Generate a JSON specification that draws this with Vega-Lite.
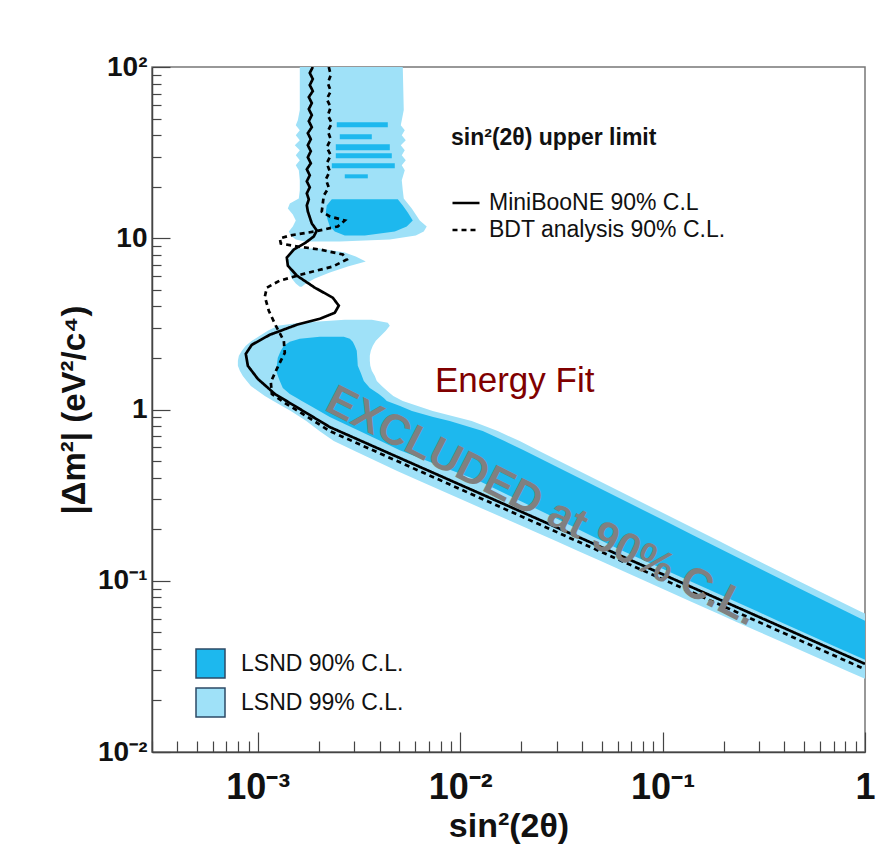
{
  "$schema": "https://vega.github.io/schema/vega-lite/v6.json",
  "width": 713,
  "height": 685,
  "autosize": {"type": "none"},
  "padding": {"left": 152, "top": 67, "right": 30, "bottom": 116},
  "background": "white",
  "config": {
    "font": "Liberation Sans",
    "view": {"stroke": "#777", "strokeWidth": 1.5}
  },
  "datasets": {
    "lsnd": [
      {"id": "a99", "cl": "LSND 99% C.L.", "dm2": 100, "s": 0.001612, "s2": 0.005202},
      {"id": "a99", "cl": "LSND 99% C.L.", "dm2": 56.0, "s": 0.001612, "s2": 0.005261},
      {"id": "a99", "cl": "LSND 99% C.L.", "dm2": 48.93, "s": 0.001576, "s2": 0.005143},
      {"id": "a99", "cl": "LSND 99% C.L.", "dm2": 45.74, "s": 0.00154, "s2": 0.005085},
      {"id": "a99", "cl": "LSND 99% C.L.", "dm2": 42.76, "s": 0.001612, "s2": 0.005321},
      {"id": "a99", "cl": "LSND 99% C.L.", "dm2": 39.97, "s": 0.00154, "s2": 0.005143},
      {"id": "a99", "cl": "LSND 99% C.L.", "dm2": 37.37, "s": 0.001612, "s2": 0.005382},
      {"id": "a99", "cl": "LSND 99% C.L.", "dm2": 34.93, "s": 0.001523, "s2": 0.005085},
      {"id": "a99", "cl": "LSND 99% C.L.", "dm2": 32.65, "s": 0.001612, "s2": 0.005321},
      {"id": "a99", "cl": "LSND 99% C.L.", "dm2": 30.52, "s": 0.00154, "s2": 0.005143},
      {"id": "a99", "cl": "LSND 99% C.L.", "dm2": 28.53, "s": 0.001612, "s2": 0.005382},
      {"id": "a99", "cl": "LSND 99% C.L.", "dm2": 26.67, "s": 0.00154, "s2": 0.005143},
      {"id": "a99", "cl": "LSND 99% C.L.", "dm2": 24.94, "s": 0.001594, "s2": 0.005321},
      {"id": "a99", "cl": "LSND 99% C.L.", "dm2": 21.79, "s": 0.001612, "s2": 0.005143},
      {"id": "a99", "cl": "LSND 99% C.L.", "dm2": 19.04, "s": 0.001612, "s2": 0.005202},
      {"id": "a99", "cl": "LSND 99% C.L.", "dm2": 17.09, "s": 0.001594, "s2": 0.005261},
      {"id": "a99", "cl": "LSND 99% C.L.", "dm2": 15.98, "s": 0.001439, "s2": 0.005506},
      {"id": "a99", "cl": "LSND 99% C.L.", "dm2": 14.93, "s": 0.001407, "s2": 0.005762},
      {"id": "a99", "cl": "LSND 99% C.L.", "dm2": 13.77, "s": 0.001489, "s2": 0.006031},
      {"id": "a99", "cl": "LSND 99% C.L.", "dm2": 12.70, "s": 0.00154, "s2": 0.00631},
      {"id": "a99", "cl": "LSND 99% C.L.", "dm2": 11.72, "s": 0.001489, "s2": 0.006832},
      {"id": "a99", "cl": "LSND 99% C.L.", "dm2": 10.95, "s": 0.001423, "s2": 0.006603},
      {"id": "a99", "cl": "LSND 99% C.L.", "dm2": 10.38, "s": 0.001455, "s2": 0.006031},
      {"id": "a99", "cl": "LSND 99% C.L.", "dm2": 9.833, "s": 0.00154, "s2": 0.004488},
      {"id": "a99", "cl": "LSND 99% C.L.", "dm2": 9.571, "s": 0.001706, "s2": 0.002541},
      {"id": "b99", "cl": "LSND 99% C.L.", "dm2": 8.71, "s": 0.001472, "s2": 0.002024},
      {"id": "b99", "cl": "LSND 99% C.L.", "dm2": 8.253, "s": 0.001439, "s2": 0.002689},
      {"id": "b99", "cl": "LSND 99% C.L.", "dm2": 7.82, "s": 0.001423, "s2": 0.003048},
      {"id": "b99", "cl": "LSND 99% C.L.", "dm2": 7.311, "s": 0.001407, "s2": 0.003416},
      {"id": "b99", "cl": "LSND 99% C.L.", "dm2": 6.834, "s": 0.001423, "s2": 0.002783},
      {"id": "b99", "cl": "LSND 99% C.L.", "dm2": 6.302, "s": 0.001439, "s2": 0.002268},
      {"id": "b99", "cl": "LSND 99% C.L.", "dm2": 5.812, "s": 0.001472, "s2": 0.001912},
      {"id": "b99", "cl": "LSND 99% C.L.", "dm2": 5.433, "s": 0.00154, "s2": 0.001726},
      {"id": "b99", "cl": "LSND 99% C.L.", "dm2": 5.217, "s": 0.001612, "s2": 0.001649},
      {"id": "c99", "cl": "LSND 99% C.L.", "dm2": 3.343, "s": 0.002689, "s2": 0.003657},
      {"id": "c99", "cl": "LSND 99% C.L.", "dm2": 3.210, "s": 0.001612, "s2": 0.004387},
      {"id": "c99", "cl": "LSND 99% C.L.", "dm2": 3.084, "s": 0.001255, "s2": 0.004488},
      {"id": "c99", "cl": "LSND 99% C.L.", "dm2": 2.882, "s": 0.00112, "s2": 0.004288},
      {"id": "c99", "cl": "LSND 99% C.L.", "dm2": 2.694, "s": 0.001023, "s2": 0.004052},
      {"id": "c99", "cl": "LSND 99% C.L.", "dm2": 2.520, "s": 0.000934, "s2": 0.003828},
      {"id": "c99", "cl": "LSND 99% C.L.", "dm2": 2.354, "s": 0.000872, "s2": 0.003699},
      {"id": "c99", "cl": "LSND 99% C.L.", "dm2": 2.201, "s": 0.000834, "s2": 0.003616},
      {"id": "c99", "cl": "LSND 99% C.L.", "dm2": 2.057, "s": 0.000806, "s2": 0.003575},
      {"id": "c99", "cl": "LSND 99% C.L.", "dm2": 1.923, "s": 0.000797, "s2": 0.003575},
      {"id": "c99", "cl": "LSND 99% C.L.", "dm2": 1.798, "s": 0.000797, "s2": 0.003595},
      {"id": "c99", "cl": "LSND 99% C.L.", "dm2": 1.681, "s": 0.000815, "s2": 0.003657},
      {"id": "c99", "cl": "LSND 99% C.L.", "dm2": 1.571, "s": 0.000843, "s2": 0.003784},
      {"id": "c99", "cl": "LSND 99% C.L.", "dm2": 1.469, "s": 0.000882, "s2": 0.003871},
      {"id": "c99", "cl": "LSND 99% C.L.", "dm2": 1.373, "s": 0.000924, "s2": 0.004098},
      {"id": "c99", "cl": "LSND 99% C.L.", "dm2": 1.283, "s": 0.001, "s2": 0.004362},
      {"id": "c99", "cl": "LSND 99% C.L.", "dm2": 1.200, "s": 0.001083, "s2": 0.00467},
      {"id": "c99", "cl": "LSND 99% C.L.", "dm2": 1.121, "s": 0.001193, "s2": 0.005202},
      {"id": "c99", "cl": "LSND 99% C.L.", "dm2": 0.980, "s": 0.001455, "s2": 0.007313},
      {"id": "c99", "cl": "LSND 99% C.L.", "dm2": 0.8562, "s": 0.001736, "s2": 0.0114},
      {"id": "c99", "cl": "LSND 99% C.L.", "dm2": 0.7481, "s": 0.002015, "s2": 0.01532},
      {"id": "c99", "cl": "LSND 99% C.L.", "dm2": 0.6537, "s": 0.002373, "s2": 0.01967},
      {"id": "c99", "cl": "LSND 99% C.L.", "dm2": 0.5712, "s": 0.00303, "s2": 0.02469},
      {"id": "c99", "cl": "LSND 99% C.L.", "dm2": 0.4992, "s": 0.003858, "s2": 0.031},
      {"id": "c99", "cl": "LSND 99% C.L.", "dm2": 0.4363, "s": 0.00491, "s2": 0.03892},
      {"id": "c99", "cl": "LSND 99% C.L.", "dm2": 0.3813, "s": 0.006346, "s2": 0.04887},
      {"id": "c99", "cl": "LSND 99% C.L.", "dm2": 0.3332, "s": 0.008215, "s2": 0.06133},
      {"id": "c99", "cl": "LSND 99% C.L.", "dm2": 0.2911, "s": 0.01063, "s2": 0.07697},
      {"id": "c99", "cl": "LSND 99% C.L.", "dm2": 0.2544, "s": 0.01376, "s2": 0.09665},
      {"id": "c99", "cl": "LSND 99% C.L.", "dm2": 0.2223, "s": 0.01784, "s2": 0.1213},
      {"id": "c99", "cl": "LSND 99% C.L.", "dm2": 0.1943, "s": 0.02309, "s2": 0.1523},
      {"id": "c99", "cl": "LSND 99% C.L.", "dm2": 0.1698, "s": 0.02989, "s2": 0.1912},
      {"id": "c99", "cl": "LSND 99% C.L.", "dm2": 0.1483, "s": 0.0387, "s2": 0.24},
      {"id": "c99", "cl": "LSND 99% C.L.", "dm2": 0.1296, "s": 0.0501, "s2": 0.3013},
      {"id": "c99", "cl": "LSND 99% C.L.", "dm2": 0.1133, "s": 0.06448, "s2": 0.3784},
      {"id": "c99", "cl": "LSND 99% C.L.", "dm2": 0.0990, "s": 0.08306, "s2": 0.475},
      {"id": "c99", "cl": "LSND 99% C.L.", "dm2": 0.0865, "s": 0.1069, "s2": 0.5981},
      {"id": "c99", "cl": "LSND 99% C.L.", "dm2": 0.0756, "s": 0.1376, "s2": 0.7536},
      {"id": "c99", "cl": "LSND 99% C.L.", "dm2": 0.0661, "s": 0.1778, "s2": 0.9501},
      {"id": "c99", "cl": "LSND 99% C.L.", "dm2": 0.0643, "s": 0.1873, "s2": 1},
      {"id": "c99", "cl": "LSND 99% C.L.", "dm2": 0.0577, "s": 0.2304, "s2": 1},
      {"id": "c99", "cl": "LSND 99% C.L.", "dm2": 0.0504, "s": 0.2983, "s2": 1},
      {"id": "c99", "cl": "LSND 99% C.L.", "dm2": 0.0441, "s": 0.3863, "s2": 1},
      {"id": "c99", "cl": "LSND 99% C.L.", "dm2": 0.0385, "s": 0.4997, "s2": 1},
      {"id": "c99", "cl": "LSND 99% C.L.", "dm2": 0.0337, "s": 0.6449, "s2": 1},
      {"id": "c99", "cl": "LSND 99% C.L.", "dm2": 0.0294, "s": 0.8318, "s2": 1},
      {"id": "c99", "cl": "LSND 99% C.L.", "dm2": 0.0268, "s": 1, "s2": 1},
      {"id": "s1", "cl": "LSND 90% C.L.", "dm2": 47.63, "s": 0.002455, "s2": 0.004387},
      {"id": "s1", "cl": "LSND 90% C.L.", "dm2": 44.53, "s": 0.002455, "s2": 0.004387},
      {"id": "s2", "cl": "LSND 90% C.L.", "dm2": 40.52, "s": 0.002541, "s2": 0.003657},
      {"id": "s2", "cl": "LSND 90% C.L.", "dm2": 37.87, "s": 0.002541, "s2": 0.003657},
      {"id": "s3", "cl": "LSND 90% C.L.", "dm2": 35.40, "s": 0.002428, "s2": 0.004488},
      {"id": "s3", "cl": "LSND 90% C.L.", "dm2": 32.65, "s": 0.002428, "s2": 0.004488},
      {"id": "s4", "cl": "LSND 90% C.L.", "dm2": 31.35, "s": 0.002428, "s2": 0.004591},
      {"id": "s4", "cl": "LSND 90% C.L.", "dm2": 29.31, "s": 0.002428, "s2": 0.004591},
      {"id": "s5", "cl": "LSND 90% C.L.", "dm2": 27.40, "s": 0.00232, "s2": 0.00475},
      {"id": "s5", "cl": "LSND 90% C.L.", "dm2": 25.62, "s": 0.00232, "s2": 0.00475},
      {"id": "s6", "cl": "LSND 90% C.L.", "dm2": 23.62, "s": 0.002689, "s2": 0.003495},
      {"id": "s6", "cl": "LSND 90% C.L.", "dm2": 22.38, "s": 0.002689, "s2": 0.003495},
      {"id": "a90", "cl": "LSND 90% C.L.", "dm2": 16.87, "s": 0.00232, "s2": 0.004915},
      {"id": "a90", "cl": "LSND 90% C.L.", "dm2": 15.55, "s": 0.002191, "s2": 0.005202},
      {"id": "a90", "cl": "LSND 90% C.L.", "dm2": 14.15, "s": 0.002167, "s2": 0.005506},
      {"id": "a90", "cl": "LSND 90% C.L.", "dm2": 12.70, "s": 0.002217, "s2": 0.005828},
      {"id": "a90", "cl": "LSND 90% C.L.", "dm2": 11.72, "s": 0.002268, "s2": 0.005444},
      {"id": "a90", "cl": "LSND 90% C.L.", "dm2": 10.95, "s": 0.0024, "s2": 0.00475},
      {"id": "a90", "cl": "LSND 90% C.L.", "dm2": 10.38, "s": 0.002689, "s2": 0.003377},
      {"id": "c90", "cl": "LSND 90% C.L.", "dm2": 2.658, "s": 0.002024, "s2": 0.002659},
      {"id": "c90", "cl": "LSND 90% C.L.", "dm2": 2.588, "s": 0.001612, "s2": 0.002847},
      {"id": "c90", "cl": "LSND 90% C.L.", "dm2": 2.486, "s": 0.001439, "s2": 0.002945},
      {"id": "c90", "cl": "LSND 90% C.L.", "dm2": 2.354, "s": 0.001344, "s2": 0.003013},
      {"id": "c90", "cl": "LSND 90% C.L.", "dm2": 2.201, "s": 0.001299, "s2": 0.003082},
      {"id": "c90", "cl": "LSND 90% C.L.", "dm2": 2.002, "s": 0.001255, "s2": 0.0031},
      {"id": "c90", "cl": "LSND 90% C.L.", "dm2": 1.798, "s": 0.001241, "s2": 0.003118},
      {"id": "c90", "cl": "LSND 90% C.L.", "dm2": 1.636, "s": 0.001241, "s2": 0.003227},
      {"id": "c90", "cl": "LSND 90% C.L.", "dm2": 1.469, "s": 0.001284, "s2": 0.003339},
      {"id": "c90", "cl": "LSND 90% C.L.", "dm2": 1.336, "s": 0.001329, "s2": 0.003575},
      {"id": "c90", "cl": "LSND 90% C.L.", "dm2": 1.233, "s": 0.001439, "s2": 0.00396},
      {"id": "c90", "cl": "LSND 90% C.L.", "dm2": 1.168, "s": 0.001558, "s2": 0.004192},
      {"id": "c90", "cl": "LSND 90% C.L.", "dm2": 1.121, "s": 0.001649, "s2": 0.004337},
      {"id": "c90", "cl": "LSND 90% C.L.", "dm2": 1.048, "s": 0.001825, "s2": 0.005045},
      {"id": "c90", "cl": "LSND 90% C.L.", "dm2": 0.980, "s": 0.002015, "s2": 0.005775},
      {"id": "c90", "cl": "LSND 90% C.L.", "dm2": 0.904, "s": 0.002268, "s2": 0.007355},
      {"id": "c90", "cl": "LSND 90% C.L.", "dm2": 0.8562, "s": 0.002497, "s2": 0.008874},
      {"id": "c90", "cl": "LSND 90% C.L.", "dm2": 0.8004, "s": 0.002818, "s2": 0.01071},
      {"id": "c90", "cl": "LSND 90% C.L.", "dm2": 0.7481, "s": 0.00318, "s2": 0.01292},
      {"id": "c90", "cl": "LSND 90% C.L.", "dm2": 0.6537, "s": 0.004047, "s2": 0.01655},
      {"id": "c90", "cl": "LSND 90% C.L.", "dm2": 0.579, "s": 0.005027, "s2": 0.02059},
      {"id": "c90", "cl": "LSND 90% C.L.", "dm2": 0.5339, "s": 0.005996, "s2": 0.0236},
      {"id": "c90", "cl": "LSND 90% C.L.", "dm2": 0.4667, "s": 0.008039, "s2": 0.02961},
      {"id": "c90", "cl": "LSND 90% C.L.", "dm2": 0.3813, "s": 0.01249, "s2": 0.04167},
      {"id": "c90", "cl": "LSND 90% C.L.", "dm2": 0.3332, "s": 0.01578, "s2": 0.05231},
      {"id": "c90", "cl": "LSND 90% C.L.", "dm2": 0.2722, "s": 0.02242, "s2": 0.07355},
      {"id": "c90", "cl": "LSND 90% C.L.", "dm2": 0.2223, "s": 0.03186, "s2": 0.1035},
      {"id": "c90", "cl": "LSND 90% C.L.", "dm2": 0.1816, "s": 0.04522, "s2": 0.1456},
      {"id": "c90", "cl": "LSND 90% C.L.", "dm2": 0.1524, "s": 0.06133, "s2": 0.1956},
      {"id": "c90", "cl": "LSND 90% C.L.", "dm2": 0.1296, "s": 0.08306, "s2": 0.257},
      {"id": "c90", "cl": "LSND 90% C.L.", "dm2": 0.1059, "s": 0.1215, "s2": 0.3616},
      {"id": "c90", "cl": "LSND 90% C.L.", "dm2": 0.0901, "s": 0.1648, "s2": 0.475},
      {"id": "c90", "cl": "LSND 90% C.L.", "dm2": 0.0756, "s": 0.2288, "s2": 0.6412},
      {"id": "c90", "cl": "LSND 90% C.L.", "dm2": 0.0661, "s": 0.2949, "s2": 0.8077},
      {"id": "c90", "cl": "LSND 90% C.L.", "dm2": 0.0585, "s": 0.3703, "s2": 1},
      {"id": "c90", "cl": "LSND 90% C.L.", "dm2": 0.0504, "s": 0.4893, "s2": 1},
      {"id": "c90", "cl": "LSND 90% C.L.", "dm2": 0.0412, "s": 0.7152, "s2": 1},
      {"id": "c90", "cl": "LSND 90% C.L.", "dm2": 0.0346, "s": 1, "s2": 1}
    ],
    "limits": [
      {"series": "MiniBooNE 90% C.L", "i": 0, "s": 0.001869, "dm2": 100},
      {"series": "MiniBooNE 90% C.L", "i": 1, "s": 0.001806, "dm2": 92.23},
      {"series": "MiniBooNE 90% C.L", "i": 2, "s": 0.001869, "dm2": 85.06},
      {"series": "MiniBooNE 90% C.L", "i": 3, "s": 0.001806, "dm2": 78.45},
      {"series": "MiniBooNE 90% C.L", "i": 4, "s": 0.001869, "dm2": 72.36},
      {"series": "MiniBooNE 90% C.L", "i": 5, "s": 0.001786, "dm2": 66.73},
      {"series": "MiniBooNE 90% C.L", "i": 6, "s": 0.001848, "dm2": 61.55},
      {"series": "MiniBooNE 90% C.L", "i": 7, "s": 0.001786, "dm2": 56.77},
      {"series": "MiniBooNE 90% C.L", "i": 8, "s": 0.001848, "dm2": 52.35},
      {"series": "MiniBooNE 90% C.L", "i": 9, "s": 0.001786, "dm2": 48.29},
      {"series": "MiniBooNE 90% C.L", "i": 10, "s": 0.001848, "dm2": 44.53},
      {"series": "MiniBooNE 90% C.L", "i": 11, "s": 0.001766, "dm2": 41.07},
      {"series": "MiniBooNE 90% C.L", "i": 12, "s": 0.001827, "dm2": 37.88},
      {"series": "MiniBooNE 90% C.L", "i": 13, "s": 0.001766, "dm2": 34.94},
      {"series": "MiniBooNE 90% C.L", "i": 14, "s": 0.001827, "dm2": 32.22},
      {"series": "MiniBooNE 90% C.L", "i": 15, "s": 0.001766, "dm2": 29.72},
      {"series": "MiniBooNE 90% C.L", "i": 16, "s": 0.001827, "dm2": 27.41},
      {"series": "MiniBooNE 90% C.L", "i": 17, "s": 0.001746, "dm2": 25.28},
      {"series": "MiniBooNE 90% C.L", "i": 18, "s": 0.001806, "dm2": 23.31},
      {"series": "MiniBooNE 90% C.L", "i": 19, "s": 0.001746, "dm2": 21.50},
      {"series": "MiniBooNE 90% C.L", "i": 20, "s": 0.001806, "dm2": 19.83},
      {"series": "MiniBooNE 90% C.L", "i": 21, "s": 0.001746, "dm2": 18.29},
      {"series": "MiniBooNE 90% C.L", "i": 22, "s": 0.001786, "dm2": 16.87},
      {"series": "MiniBooNE 90% C.L", "i": 23, "s": 0.001746, "dm2": 15.56},
      {"series": "MiniBooNE 90% C.L", "i": 24, "s": 0.001766, "dm2": 14.35},
      {"series": "MiniBooNE 90% C.L", "i": 25, "s": 0.001848, "dm2": 12.20},
      {"series": "MiniBooNE 90% C.L", "i": 26, "s": 0.001956, "dm2": 11.10},
      {"series": "MiniBooNE 90% C.L", "i": 27, "s": 0.00189, "dm2": 10.24},
      {"series": "MiniBooNE 90% C.L", "i": 28, "s": 0.001726, "dm2": 9.443},
      {"series": "MiniBooNE 90% C.L", "i": 29, "s": 0.001506, "dm2": 8.594},
      {"series": "MiniBooNE 90% C.L", "i": 30, "s": 0.001391, "dm2": 7.716},
      {"series": "MiniBooNE 90% C.L", "i": 31, "s": 0.001407, "dm2": 6.926},
      {"series": "MiniBooNE 90% C.L", "i": 32, "s": 0.001558, "dm2": 6.052},
      {"series": "MiniBooNE 90% C.L", "i": 33, "s": 0.001912, "dm2": 5.147},
      {"series": "MiniBooNE 90% C.L", "i": 34, "s": 0.002346, "dm2": 4.498},
      {"series": "MiniBooNE 90% C.L", "i": 35, "s": 0.002512, "dm2": 4.037},
      {"series": "MiniBooNE 90% C.L", "i": 36, "s": 0.0024, "dm2": 3.673},
      {"series": "MiniBooNE 90% C.L", "i": 37, "s": 0.002024, "dm2": 3.388},
      {"series": "MiniBooNE 90% C.L", "i": 38, "s": 0.001558, "dm2": 3.126},
      {"series": "MiniBooNE 90% C.L", "i": 39, "s": 0.001146, "dm2": 2.731},
      {"series": "MiniBooNE 90% C.L", "i": 40, "s": 0.000934, "dm2": 2.386},
      {"series": "MiniBooNE 90% C.L", "i": 41, "s": 0.000872, "dm2": 2.114},
      {"series": "MiniBooNE 90% C.L", "i": 42, "s": 0.000893, "dm2": 1.798},
      {"series": "MiniBooNE 90% C.L", "i": 43, "s": 0.001, "dm2": 1.509},
      {"series": "MiniBooNE 90% C.L", "i": 44, "s": 0.001213, "dm2": 1.233},
      {"series": "MiniBooNE 90% C.L", "i": 45, "s": 0.001612, "dm2": 1.007},
      {"series": "MiniBooNE 90% C.L", "i": 46, "s": 0.002268, "dm2": 0.7897},
      {"series": "MiniBooNE 90% C.L", "i": 47, "s": 0.04887, "dm2": 0.1587},
      {"series": "MiniBooNE 90% C.L", "i": 48, "s": 1, "dm2": 0.0327},
      {"series": "BDT analysis 90% C.L.", "i": 0, "s": 0.002242, "dm2": 100},
      {"series": "BDT analysis 90% C.L.", "i": 1, "s": 0.002293, "dm2": 89.76},
      {"series": "BDT analysis 90% C.L.", "i": 2, "s": 0.002217, "dm2": 80.57},
      {"series": "BDT analysis 90% C.L.", "i": 3, "s": 0.002293, "dm2": 72.33},
      {"series": "BDT analysis 90% C.L.", "i": 4, "s": 0.002191, "dm2": 64.92},
      {"series": "BDT analysis 90% C.L.", "i": 5, "s": 0.002293, "dm2": 58.28},
      {"series": "BDT analysis 90% C.L.", "i": 6, "s": 0.002217, "dm2": 52.31},
      {"series": "BDT analysis 90% C.L.", "i": 7, "s": 0.00232, "dm2": 46.96},
      {"series": "BDT analysis 90% C.L.", "i": 8, "s": 0.002217, "dm2": 42.15},
      {"series": "BDT analysis 90% C.L.", "i": 9, "s": 0.002293, "dm2": 37.84},
      {"series": "BDT analysis 90% C.L.", "i": 10, "s": 0.002191, "dm2": 33.96},
      {"series": "BDT analysis 90% C.L.", "i": 11, "s": 0.002293, "dm2": 30.49},
      {"series": "BDT analysis 90% C.L.", "i": 12, "s": 0.002191, "dm2": 27.37},
      {"series": "BDT analysis 90% C.L.", "i": 13, "s": 0.002268, "dm2": 24.56},
      {"series": "BDT analysis 90% C.L.", "i": 14, "s": 0.002167, "dm2": 22.05},
      {"series": "BDT analysis 90% C.L.", "i": 15, "s": 0.002242, "dm2": 19.79},
      {"series": "BDT analysis 90% C.L.", "i": 16, "s": 0.002118, "dm2": 17.77},
      {"series": "BDT analysis 90% C.L.", "i": 17, "s": 0.002094, "dm2": 15.95},
      {"series": "BDT analysis 90% C.L.", "i": 18, "s": 0.00207, "dm2": 14.32},
      {"series": "BDT analysis 90% C.L.", "i": 19, "s": 0.002268, "dm2": 13.41},
      {"series": "BDT analysis 90% C.L.", "i": 20, "s": 0.002689, "dm2": 12.70},
      {"series": "BDT analysis 90% C.L.", "i": 21, "s": 0.002483, "dm2": 11.72},
      {"series": "BDT analysis 90% C.L.", "i": 22, "s": 0.001912, "dm2": 10.95},
      {"series": "BDT analysis 90% C.L.", "i": 23, "s": 0.001439, "dm2": 10.38},
      {"series": "BDT analysis 90% C.L.", "i": 24, "s": 0.001284, "dm2": 9.966},
      {"series": "BDT analysis 90% C.L.", "i": 25, "s": 0.001299, "dm2": 9.317},
      {"series": "BDT analysis 90% C.L.", "i": 26, "s": 0.001576, "dm2": 8.948},
      {"series": "BDT analysis 90% C.L.", "i": 27, "s": 0.002024, "dm2": 8.594},
      {"series": "BDT analysis 90% C.L.", "i": 28, "s": 0.002629, "dm2": 8.034},
      {"series": "BDT analysis 90% C.L.", "i": 29, "s": 0.002751, "dm2": 7.511},
      {"series": "BDT analysis 90% C.L.", "i": 30, "s": 0.002346, "dm2": 6.834},
      {"series": "BDT analysis 90% C.L.", "i": 31, "s": 0.001706, "dm2": 6.217},
      {"series": "BDT analysis 90% C.L.", "i": 32, "s": 0.001284, "dm2": 5.658},
      {"series": "BDT analysis 90% C.L.", "i": 33, "s": 0.001108, "dm2": 5.147},
      {"series": "BDT analysis 90% C.L.", "i": 34, "s": 0.001083, "dm2": 4.558},
      {"series": "BDT analysis 90% C.L.", "i": 35, "s": 0.001133, "dm2": 3.774},
      {"series": "BDT analysis 90% C.L.", "i": 36, "s": 0.001227, "dm2": 3.084},
      {"series": "BDT analysis 90% C.L.", "i": 37, "s": 0.001344, "dm2": 2.520},
      {"series": "BDT analysis 90% C.L.", "i": 38, "s": 0.001359, "dm2": 2.142},
      {"series": "BDT analysis 90% C.L.", "i": 39, "s": 0.001255, "dm2": 1.774},
      {"series": "BDT analysis 90% C.L.", "i": 40, "s": 0.001159, "dm2": 1.449},
      {"series": "BDT analysis 90% C.L.", "i": 41, "s": 0.001173, "dm2": 1.233},
      {"series": "BDT analysis 90% C.L.", "i": 42, "s": 0.001359, "dm2": 1.092},
      {"series": "BDT analysis 90% C.L.", "i": 43, "s": 0.001612, "dm2": 0.9668},
      {"series": "BDT analysis 90% C.L.", "i": 44, "s": 0.002268, "dm2": 0.7481},
      {"series": "BDT analysis 90% C.L.", "i": 45, "s": 1, "dm2": 0.0304}
    ]
  },
  "encoding": {
    "x": {
      "field": "s",
      "type": "quantitative",
      "title": "sin²(2θ)",
      "stack": null,
      "scale": {"type": "log", "domain": [0.0003, 1], "nice": false},
      "axis": {
        "values": [0.0003, 0.0004, 0.0005, 0.0006, 0.0007, 0.0008, 0.0009, 0.001, 0.002, 0.003, 0.004, 0.005, 0.006, 0.007, 0.008, 0.009, 0.01, 0.02, 0.03, 0.04, 0.05, 0.06, 0.07, 0.08, 0.09, 0.1, 0.2, 0.3, 0.4, 0.5, 0.6, 0.7, 0.8, 0.9, 1],
        "labelExpr": "datum.value == 0.001 ? '10⁻³' : datum.value == 0.01 ? '10⁻²' : datum.value == 0.1 ? '10⁻¹' : datum.value == 1 ? '1' : ''",
        "tickSize": {"condition": {"test": "indexof([0.001, 0.01, 0.1, 1], datum.value) >= 0", "value": -20}, "value": -11},
        "labelPadding": 38,
        "labelFont": "Liberation Sans",
        "labelFontSize": 36,
        "labelFontWeight": "bold",
        "labelColor": "#111",
        "labelOverlap": false,
        "labelFlush": false,
        "labelBound": false,
        "title": "sin²(2θ)",
        "titleFont": "Liberation Sans",
        "titleFontSize": 34,
        "titleFontWeight": "bold",
        "titleColor": "#111",
        "titlePadding": -5,
        "domainColor": "#444",
        "domainWidth": 1.5,
        "tickColor": "#444",
        "tickWidth": 1.2,
        "grid": false
      }
    },
    "y": {
      "field": "dm2",
      "type": "quantitative",
      "title": "|Δm²| (eV²/c⁴)",
      "scale": {"type": "log", "domain": [0.01, 100], "nice": false},
      "axis": {
        "values": [0.01, 0.02, 0.03, 0.04, 0.05, 0.06, 0.07, 0.08, 0.09, 0.1, 0.2, 0.3, 0.4, 0.5, 0.6, 0.7, 0.8, 0.9, 1, 2, 3, 4, 5, 6, 7, 8, 9, 10, 20, 30, 40, 50, 60, 70, 80, 90, 100],
        "labelExpr": "datum.value == 100 ? '10²' : datum.value == 10 ? '10' : datum.value == 1 ? '1' : datum.value == 0.1 ? '10⁻¹' : datum.value == 0.01 ? '10⁻²' : ''",
        "tickSize": {"condition": {"test": "indexof([0.01, 0.1, 1, 10, 100], datum.value) >= 0", "value": -18}, "value": -9},
        "labelPadding": 23,
        "labelFont": "Liberation Sans",
        "labelFontSize": 28,
        "labelFontWeight": "bold",
        "labelColor": "#111",
        "labelOverlap": false,
        "labelFlush": false,
        "labelBound": false,
        "title": "|Δm²| (eV²/c⁴)",
        "titleFont": "Liberation Sans",
        "titleFontSize": 33,
        "titleFontWeight": "bold",
        "titleColor": "#111",
        "titlePadding": 6,
        "domainColor": "#444",
        "domainWidth": 1.5,
        "tickColor": "#444",
        "tickWidth": 1.2,
        "grid": false
      }
    }
  },
  "layer": [
    {
      "data": {"name": "lsnd"},
      "transform": [{"filter": "datum.cl == 'LSND 99% C.L.'"}],
      "mark": {"type": "area", "orient": "horizontal", "interpolate": "linear", "clip": true},
      "encoding": {
        "x2": {"field": "s2"},
        "detail": {"field": "id"},
        "color": {
          "field": "cl",
          "type": "nominal",
          "scale": {"domain": ["LSND 90% C.L.", "LSND 99% C.L."], "range": ["#1db8ee", "#9fe1f8"]},
          "legend": {
            "orient": "none", "legendX": 43, "legendY": 581, "title": null, "padding": 0,
            "symbolType": "square", "symbolSize": 841, "symbolStrokeColor": "#2d4a66", "symbolStrokeWidth": 1.5,
            "labelFont": "Liberation Sans", "labelFontSize": 23, "labelColor": "#111", "labelOffset": 15, "labelLimit": 400, "rowPadding": 4
          }
        }
      }
    },
    {
      "data": {"name": "lsnd"},
      "transform": [{"filter": "datum.cl == 'LSND 90% C.L.'"}],
      "mark": {"type": "area", "orient": "horizontal", "interpolate": "linear", "clip": true},
      "encoding": {
        "x2": {"field": "s2"},
        "detail": {"field": "id"},
        "color": {
          "field": "cl",
          "type": "nominal",
          "scale": {"domain": ["LSND 90% C.L.", "LSND 99% C.L."], "range": ["#1db8ee", "#9fe1f8"]},
          "legend": {
            "orient": "none", "legendX": 43, "legendY": 581, "title": null, "padding": 0,
            "symbolType": "square", "symbolSize": 841, "symbolStrokeColor": "#2d4a66", "symbolStrokeWidth": 1.5,
            "labelFont": "Liberation Sans", "labelFontSize": 23, "labelColor": "#111", "labelOffset": 15, "labelLimit": 400, "rowPadding": 4
          }
        }
      }
    },
    {
      "data": {"name": "limits"},
      "mark": {"type": "line", "clip": true, "strokeWidth": 2.7, "color": "black"},
      "encoding": {
        "order": {"field": "i", "type": "quantitative"},
        "strokeDash": {
          "field": "series",
          "type": "nominal",
          "scale": {"domain": ["MiniBooNE 90% C.L", "BDT analysis 90% C.L."], "range": [[1, 0], [5, 4]]},
          "legend": {
            "orient": "none", "legendX": 299, "legendY": 60, "padding": 0,
            "title": "sin²(2θ) upper limit", "titleFont": "Liberation Sans", "titleFontSize": 23, "titleFontWeight": "bold", "titleColor": "#111", "titlePadding": 38, "titleLimit": 400,
            "symbolType": "stroke", "symbolSize": 729, "symbolStrokeWidth": 2.5, "symbolStrokeColor": "black",
            "labelFont": "Liberation Sans", "labelFontSize": 23, "labelColor": "#111", "labelOffset": 8, "labelLimit": 400, "rowPadding": 0
          }
        }
      }
    },
    {
      "data": {"values": [{"note": "Energy Fit", "s": 0.01858, "dm2": 1.469}]},
      "mark": {"type": "text", "font": "Liberation Sans", "fontSize": 35, "color": "#800000", "align": "center", "baseline": "middle"},
      "encoding": {"text": {"field": "note"}}
    },
    {
      "data": {"values": [{"note": "EXCLUDED at 90% C.L.", "s": 0.0253, "dm2": 0.2722}]},
      "mark": {"type": "text", "font": "Liberation Sans", "fontSize": 43, "fontWeight": "bold", "color": "#808080", "angle": 27, "align": "center", "baseline": "middle"},
      "encoding": {"text": {"field": "note"}}
    }
  ]
}
